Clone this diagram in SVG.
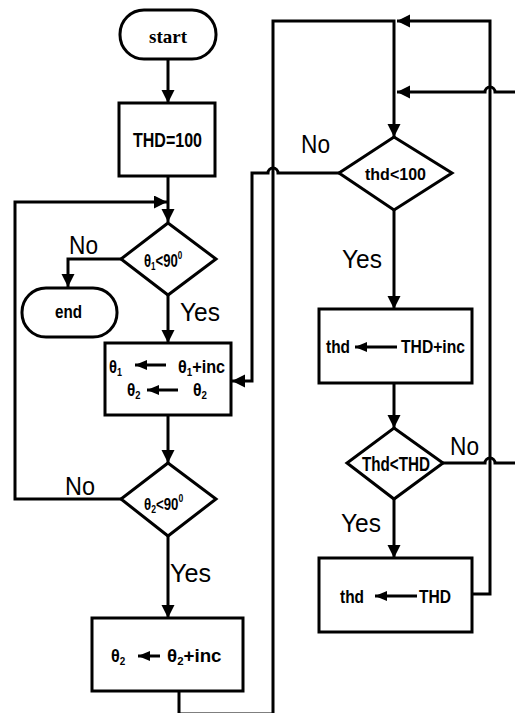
<svg xmlns="http://www.w3.org/2000/svg" width="515" height="713" viewBox="0 0 515 713">
<style>
.shape{fill:#fff;stroke:#000;stroke-width:3}
.conn{fill:none;stroke:#000;stroke-width:3;stroke-linejoin:miter}
.arr{marker-end:url(#ah)}
.in{fill:none;stroke:#000;stroke-width:3;marker-end:url(#sh)}
.t{font-family:"Liberation Sans",Arial,sans-serif;font-weight:bold;fill:#000}
.lbl{font-family:"Liberation Sans",Arial,sans-serif;font-size:26px;fill:#000}
.sub{font-size:11px}
</style>
<defs>
<marker id="ah" markerUnits="userSpaceOnUse" markerWidth="14" markerHeight="14" refX="13" refY="6.5" orient="auto">
<path d="M0,0 L13,6.5 L0,13 z" fill="#000"/>
</marker>
<marker id="sh" markerUnits="userSpaceOnUse" markerWidth="13" markerHeight="11" refX="12" refY="5" orient="auto">
<path d="M0,0 L12,5 L0,10 z" fill="#000"/>
</marker>
</defs>

<g id="connectors">
<path class="conn arr" d="M168,59 V103"/>
<path class="conn arr" d="M168,176 V222"/>
<path class="conn arr" d="M121,499 H15 V202 H167"/>
<path class="conn arr" d="M121,259 H68 V287"/>
<path class="conn arr" d="M168,295 V343"/>
<path class="conn arr" d="M168,415 V463"/>
<path class="conn arr" d="M168,536 V618"/>
<path class="conn arr" d="M179,691 V714 H273 V21 H394 V137"/>
<path class="conn arr" d="M394,210 V309"/>
<path class="conn arr" d="M394,383 V428"/>
<path class="conn arr" d="M394,499 V558"/>
<path class="conn arr" d="M472,594 H490 V21 H397"/>
<path class="conn" d="M443,463 H485 A5,5 0 0 1 495,463 H516"/>
<path class="conn arr" d="M516,92 H495 A5,5 0 0 0 485,92 H397"/>
<path class="conn arr" d="M339,173 H278 A5,5 0 0 0 268,173 H252 V381 H232"/>
</g>

<g id="start">
<rect class="shape" x="120" y="10" width="96" height="49" rx="24"/>
<text x="168" y="43" text-anchor="middle" font-family="'Liberation Serif','Times New Roman',serif" font-weight="bold" font-size="19">start</text>
</g>

<g id="init">
<rect class="shape" x="119" y="103" width="96" height="73"/>
<text class="t" x="133" y="147" font-size="20" textLength="69" lengthAdjust="spacingAndGlyphs">THD=100</text>
</g>

<g id="cond1">
<polygon class="shape" points="168,223 216,259 168,295 121,259"/>
<text class="t" transform="translate(144,267) scale(0.73,1)" font-size="18">θ<tspan class="sub" dy="3">1</tspan><tspan dy="-3">&lt;90</tspan><tspan class="sub" dy="-8">0</tspan></text>
</g>

<g id="end">
<rect class="shape" x="22" y="288" width="95" height="49" rx="24"/>
<text class="t" x="55" y="318" font-size="18" textLength="27" lengthAdjust="spacingAndGlyphs">end</text>
</g>

<g id="update1">
<rect class="shape" x="105" y="343" width="126" height="72"/>
<text class="t" transform="translate(109,373) scale(0.82,1)" font-size="18">θ<tspan class="sub" dy="3">1</tspan></text>
<path class="in" d="M166,365 H135"/>
<text class="t" transform="translate(178,373) scale(0.9,1)" font-size="18">θ<tspan class="sub" dy="3">1</tspan><tspan dy="-3">+inc</tspan></text>
<text class="t" transform="translate(127,396) scale(0.85,1)" font-size="18">θ<tspan class="sub" dy="3">2</tspan></text>
<path class="in" d="M178,390 H147"/>
<text class="t" transform="translate(193,396) scale(0.88,1)" font-size="18">θ<tspan class="sub" dy="3">2</tspan></text>
</g>

<g id="cond2">
<polygon class="shape" points="168,463 216,499 168,536 121,499"/>
<text class="t" transform="translate(144,510) scale(0.78,1)" font-size="17">θ<tspan class="sub" dy="3">2</tspan><tspan dy="-3">&lt;90</tspan><tspan class="sub" dy="-8">0</tspan></text>
</g>

<g id="update2">
<rect class="shape" x="92" y="618" width="151" height="73"/>
<text class="t" transform="translate(111,662) scale(0.9,1)" font-size="18">θ<tspan class="sub" dy="3">2</tspan></text>
<path class="in" d="M160,656 H138"/>
<text class="t" transform="translate(167,662) scale(1.04,1)" font-size="18">θ<tspan class="sub" dy="3">2</tspan><tspan dy="-3">+inc</tspan></text>
</g>

<g id="cond3">
<polygon class="shape" points="394,137 452,173 394,210 339,173"/>
<text class="t" x="365" y="180" font-size="17" textLength="61" lengthAdjust="spacingAndGlyphs">thd&lt;100</text>
</g>

<g id="set1">
<rect class="shape" x="319" y="309" width="153" height="74"/>
<text class="t" x="326" y="353" font-size="18" textLength="24" lengthAdjust="spacingAndGlyphs">thd</text>
<path class="in" d="M397,347 H355"/>
<text class="t" x="401" y="353" font-size="18" textLength="64" lengthAdjust="spacingAndGlyphs">THD+inc</text>
</g>

<g id="cond4">
<polygon class="shape" points="394,428 443,463 394,499 347,463"/>
<text class="t" x="362" y="471" font-size="20" textLength="68" lengthAdjust="spacingAndGlyphs">Thd&lt;THD</text>
</g>

<g id="set2">
<rect class="shape" x="319" y="558" width="153" height="74"/>
<text class="t" x="340" y="603" font-size="18" textLength="24" lengthAdjust="spacingAndGlyphs">thd</text>
<path class="in" d="M417,596 H375"/>
<text class="t" x="419" y="603" font-size="18" textLength="32" lengthAdjust="spacingAndGlyphs">THD</text>
</g>

<g id="labels">
<text class="lbl" x="69" y="254" textLength="29" lengthAdjust="spacingAndGlyphs">No</text>
<text class="lbl" x="180" y="321" textLength="40" lengthAdjust="spacingAndGlyphs">Yes</text>
<text class="lbl" x="65" y="495" textLength="30" lengthAdjust="spacingAndGlyphs">No</text>
<text class="lbl" x="170" y="582" textLength="41" lengthAdjust="spacingAndGlyphs">Yes</text>
<text class="lbl" x="301" y="153" textLength="29" lengthAdjust="spacingAndGlyphs">No</text>
<text class="lbl" x="342" y="268" textLength="40" lengthAdjust="spacingAndGlyphs">Yes</text>
<text class="lbl" x="450" y="455" textLength="29" lengthAdjust="spacingAndGlyphs">No</text>
<text class="lbl" x="341" y="532" textLength="40" lengthAdjust="spacingAndGlyphs">Yes</text>
</g>
</svg>
